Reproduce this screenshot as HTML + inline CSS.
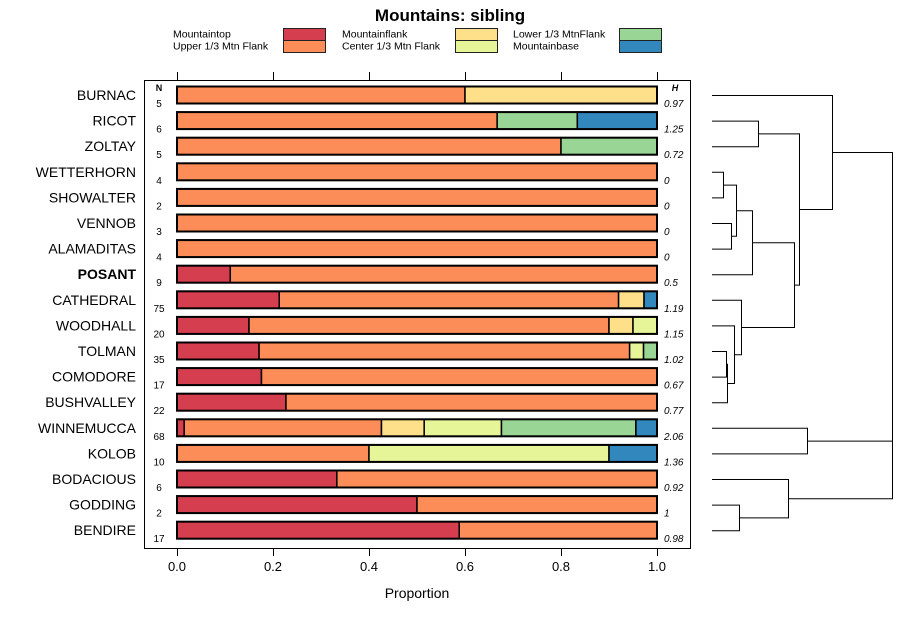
<!DOCTYPE html>
<html><head><meta charset="utf-8"><style>
body{margin:0;background:#fff}
svg{font-family:"Liberation Sans",sans-serif;display:block}
</style></head><body>
<svg id="chart" width="900" height="620" viewBox="0 0 900 620" xmlns="http://www.w3.org/2000/svg">
<text x="450" y="21" text-anchor="middle" font-size="17" font-weight="bold">Mountains: sibling</text>
<g id="legend" font-size="10.5"></g>
<rect x="144.5" y="80.5" width="546" height="468" fill="none" stroke="#000"/>
<g id="bars"></g>
<g id="axes"></g>
<g id="dendro" fill="none" stroke="#000" stroke-width="1"></g>
<text x="417" y="598" text-anchor="middle" font-size="14">Proportion</text>
</svg>
<script>
const categories=["Mountaintop","Upper 1/3 Mtn Flank","Mountainflank","Center 1/3 Mtn Flank","Lower 1/3 MtnFlank","Mountainbase"];
const colors=["#D53E4F","#FC8D59","#FEE08B","#E6F598","#99D594","#3288BD"];
const sites=["BURNAC","RICOT","ZOLTAY","WETTERHORN","SHOWALTER","VENNOB","ALAMADITAS","POSANT","CATHEDRAL","WOODHALL","TOLMAN","COMODORE","BUSHVALLEY","WINNEMUCCA","KOLOB","BODACIOUS","GODDING","BENDIRE"];
const nValues=[5,6,5,4,2,3,4,9,75,20,35,17,22,68,10,6,2,17];
const hValues=["0.97","1.25","0.72","0","0","0","0","0.5","1.19","1.15","1.02","0.67","0.77","2.06","1.36","0.92","1","0.98"];
const props=[
[0,0.6,0.4,0,0,0],
[0,0.667,0,0,0.167,0.166],
[0,0.8,0,0,0.2,0],
[0,1,0,0,0,0],
[0,1,0,0,0,0],
[0,1,0,0,0,0],
[0,1,0,0,0,0],
[0.111,0.889,0,0,0,0],
[0.213,0.707,0.053,0,0,0.027],
[0.15,0.75,0.05,0.05,0,0],
[0.171,0.772,0,0.029,0.028,0],
[0.176,0.824,0,0,0,0],
[0.227,0.773,0,0,0,0],
[0.015,0.411,0.089,0.161,0.280,0.044],
[0,0.4,0,0.5,0,0.1],
[0.333,0.667,0,0,0,0],
[0.5,0.5,0,0,0,0],
[0.588,0.412,0,0,0,0]];
const ticks=[0,0.2,0.4,0.6,0.8,1.0];
const tickLabels=["0.0","0.2","0.4","0.6","0.8","1.0"];
const NS="http://www.w3.org/2000/svg";
const xS=v=>177+480*v;
const yS=i=>95+25.6*i;
function mk(tag,attrs,parent,txt){const e=document.createElementNS(NS,tag);for(const k in attrs)e.setAttribute(k,attrs[k]);if(txt!==undefined)e.textContent=txt;parent.appendChild(e);return e;}
// legend
const lg=document.getElementById('legend');
const lx=[[173,283],[342,455],[513,619]];
categories.forEach((c,k)=>{const col=Math.floor(k/2),row=k%2;const y=28+row*12;
 const t=mk('text',{x:lx[col][0],y:y+9.5},lg,c);
 
 
 const r=mk('rect',{x:lx[col][1]+0.5,y:y+0.5,width:42,height:12,fill:colors[k],stroke:'#222'},lg);
 
 
});
// bars
const bg=document.getElementById('bars');
mk('text',{x:159,y:91,'text-anchor':'middle','font-size':9,'font-weight':'bold'},bg,'N');
mk('text',{x:675,y:91,'text-anchor':'middle','font-size':9,'font-weight':'bold','font-style':'italic'},bg,'H');
sites.forEach((s,i)=>{const yc=yS(i);
 const lab=mk('text',{x:136,y:yc+5,'text-anchor':'end','font-size':14,'font-weight':s==="POSANT"?'bold':'normal'},bg,s);
 
 
 let acc=0;
 props[i].forEach((p,k)=>{if(p<=0)return;
  const r=mk('rect',{x:xS(acc),y:yc-8.5,width:xS(acc+p)-xS(acc),height:17,fill:colors[k],stroke:'#000','stroke-width':1.5},bg);
  
  
  acc+=p;});
 mk('rect',{x:xS(0),y:yc-8.5,width:480,height:17,fill:'none',stroke:'#000','stroke-width':2},bg);
 const n=mk('text',{x:159,y:yc+12,'text-anchor':'middle','font-size':10},bg,nValues[i]);
 
 
 const h=mk('text',{x:664,y:yc+12,'font-size':10,'font-style':'italic'},bg,hValues[i]);
 
 
});
// axes
const ax=document.getElementById('axes');
ticks.forEach((v,j)=>{const x=xS(v)+0.5;
 mk('line',{x1:x,x2:x,y1:72,y2:80,stroke:'#000'},ax);
 mk('line',{x1:x,x2:x,y1:548,y2:556,stroke:'#000'},ax);
 const t=mk('text',{x:xS(v),y:571,'text-anchor':'middle','font-size':13},ax,tickLabels[j]);
 
 
});
// dendrogram (merges: [a-index-or-node, b, height x])
const dg=document.getElementById('dendro');
const leafX=712;
const merges=[[1,2,758],[3,4,723],[5,6,731],[-2,-3,736],[-4,7,752],[10,11,726],[-6,12,727],[9,-7,734],[8,-8,741],[-5,-9,794],[-1,-10,799],[0,-11,832],[13,14,807],[16,17,739],[15,-14,788],[-12,-13,892],[-16,-15,892]];
const nodes=[];
function pos(r){return r>=0?{x:leafX,y:yS(r)}:nodes[-r-1];}
merges.forEach(m=>{const a=pos(m[0]),b=pos(m[1]),x=m[2];
 const p=mk('path',{d:`M${a.x},${a.y+0.5}H${x+0.5}V${b.y+0.5}H${b.x}`},dg);
 
 
 nodes.push({x:x+0.5,y:(a.y+b.y)/2});});
</script>
</body></html>
